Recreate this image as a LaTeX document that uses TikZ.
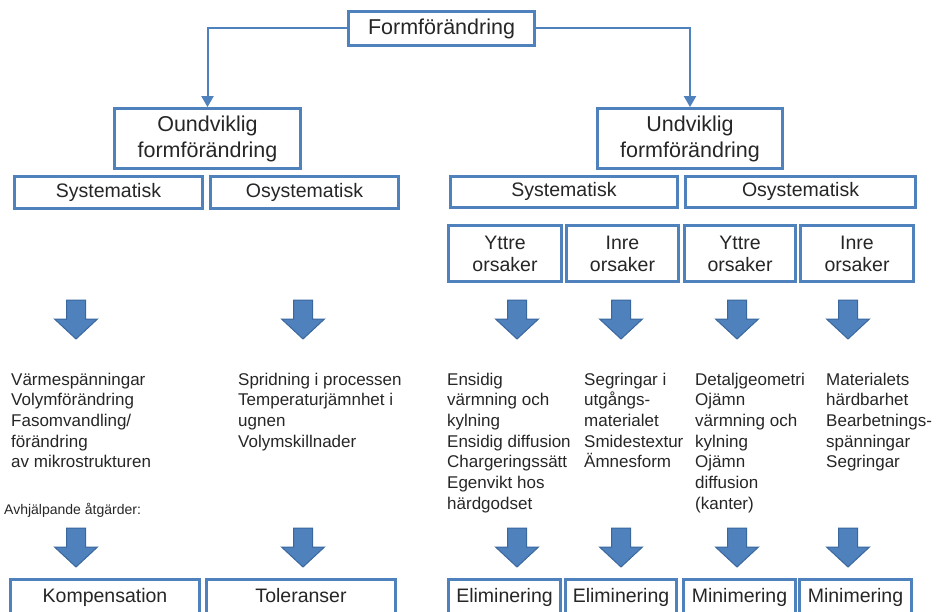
\documentclass[tikz,border=0pt]{standalone}
\usepackage{fontspec}
\setmainfont{Liberation Sans}
\usetikzlibrary{arrows.meta}
\definecolor{boxblue}{HTML}{4F81BD}
\definecolor{arrowedge}{HTML}{3A679E}
\definecolor{txt}{HTML}{262626}
\begin{document}
\begin{tikzpicture}[x=1pt,y=-1pt,
 box/.style={draw=boxblue, line width=2.8pt, fill=white, align=center, text=txt, inner sep=0pt},
 big/.style={font=\fontsize{21.5}{26}\selectfont},
 mid/.style={font=\fontsize{19.5}{22}\selectfont},
 oneline/.style={text height=14pt, text depth=4pt},
 list/.style={font=\fontsize{17}{20.7}\selectfont, align=left, anchor=base west, inner sep=0pt, text=txt},
 conn/.style={draw=boxblue, line width=2pt, -{Triangle[width=12pt,length=11pt]}},
 barrow/.pic={\draw[fill=boxblue, draw=arrowedge, line width=1pt] (-9.5,0) -- (9.5,0) -- (9.5,19) -- (21.5,19) -- (0,39) -- (-21.5,19) -- (-9.5,19) -- cycle;}
]
\useasboundingbox (0,0) rectangle (936,612);
\clip (0,0) rectangle (936,612);

% top level
\node[box,big,text height=16pt,text depth=3pt,minimum width=186pt,minimum height=34pt] (top) at (441.5,28.5) {Formförändring};
\node[box,big,minimum width=186pt,minimum height=60pt] (oun) at (207.5,138.5) {Oundviklig\\formförändring};
\node[box,big,minimum width=185pt,minimum height=60pt] (und) at (690,138.5) {Undviklig\\formförändring};
\draw[conn] (top.west) -| (oun.north);
\draw[conn] (top.east) -| (und.north);

% second level
\node[box,mid,oneline,minimum width=188pt,minimum height=32pt] (sysL) at (108.5,192.5) {Systematisk};
\node[box,mid,oneline,minimum width=188pt,minimum height=32pt] (osysL) at (304.5,192.5) {Osystematisk};
\node[box,mid,oneline,minimum width=227pt,minimum height=31pt] (sysR) at (564,192) {Systematisk};
\node[box,mid,oneline,minimum width=230pt,minimum height=31pt] (osysR) at (800.5,192) {Osystematisk};

% causes
\node[box,mid,minimum width=113pt,minimum height=56pt] (y1) at (505,253.5) {Yttre\\orsaker};
\node[box,mid,minimum width=112pt,minimum height=56pt] (i1) at (622.5,253.5) {Inre\\orsaker};
\node[box,mid,minimum width=111pt,minimum height=56pt] (y2) at (740,253.5) {Yttre\\orsaker};
\node[box,mid,minimum width=113pt,minimum height=56pt] (i2) at (857,253.5) {Inre\\orsaker};

% top block arrows
\foreach \x in {76,303,517,621,737,848} \pic at (\x,300) {barrow};

% lists (base anchor = baseline of last line; first line baseline at 385)
\node[list] (l1) at (11,467.8) {Värmespänningar\\Volymförändring\\Fasomvandling/\\förändring\\av mikrostrukturen};
\node[list] (l2) at (238,447.1) {Spridning i processen\\Temperaturjämnhet i\\ugnen\\Volymskillnader};
\node[list] (l3) at (447,509.2) {Ensidig\\värmning och\\kylning\\Ensidig diffusion\\Chargeringssätt\\Egenvikt hos\\härdgodset};
\node[list] (l4) at (584,467.8) {Segringar i\\utgångs-\\materialet\\Smidestextur\\Ämnesform};
\node[list] (l5) at (695,509.2) {Detaljgeometri\\Ojämn\\värmning och\\kylning\\Ojämn\\diffusion\\(kanter)};
\node[list] (l6) at (826,467.8) {Materialets\\härdbarhet\\Bearbetnings-\\spänningar\\Segringar};

\node[anchor=base west, inner sep=0pt, text=txt, font=\fontsize{14}{16}\selectfont] (avh) at (4,514) {Avhjälpande åtgärder:};

% bottom block arrows
\foreach \x in {76,303,517,621,737,848} \pic at (\x,528) {barrow};

% bottom boxes
\node[box,mid,oneline,minimum width=189pt,minimum height=36pt] (komp) at (105,597.5) {Kompensation};
\node[box,mid,oneline,minimum width=189pt,minimum height=36pt] (tol) at (301,597.5) {Toleranser};
\node[box,mid,oneline,minimum width=112pt,minimum height=36pt] (e1) at (504.5,597.5) {Eliminering};
\node[box,mid,oneline,minimum width=111pt,minimum height=36pt] (e2) at (621,597.5) {Eliminering};
\node[box,mid,oneline,minimum width=112pt,minimum height=36pt] (m1) at (739.5,597.5) {Minimering};
\node[box,mid,oneline,minimum width=112pt,minimum height=36pt] (m2) at (855.5,597.5) {Minimering};
\end{tikzpicture}
\end{document}
